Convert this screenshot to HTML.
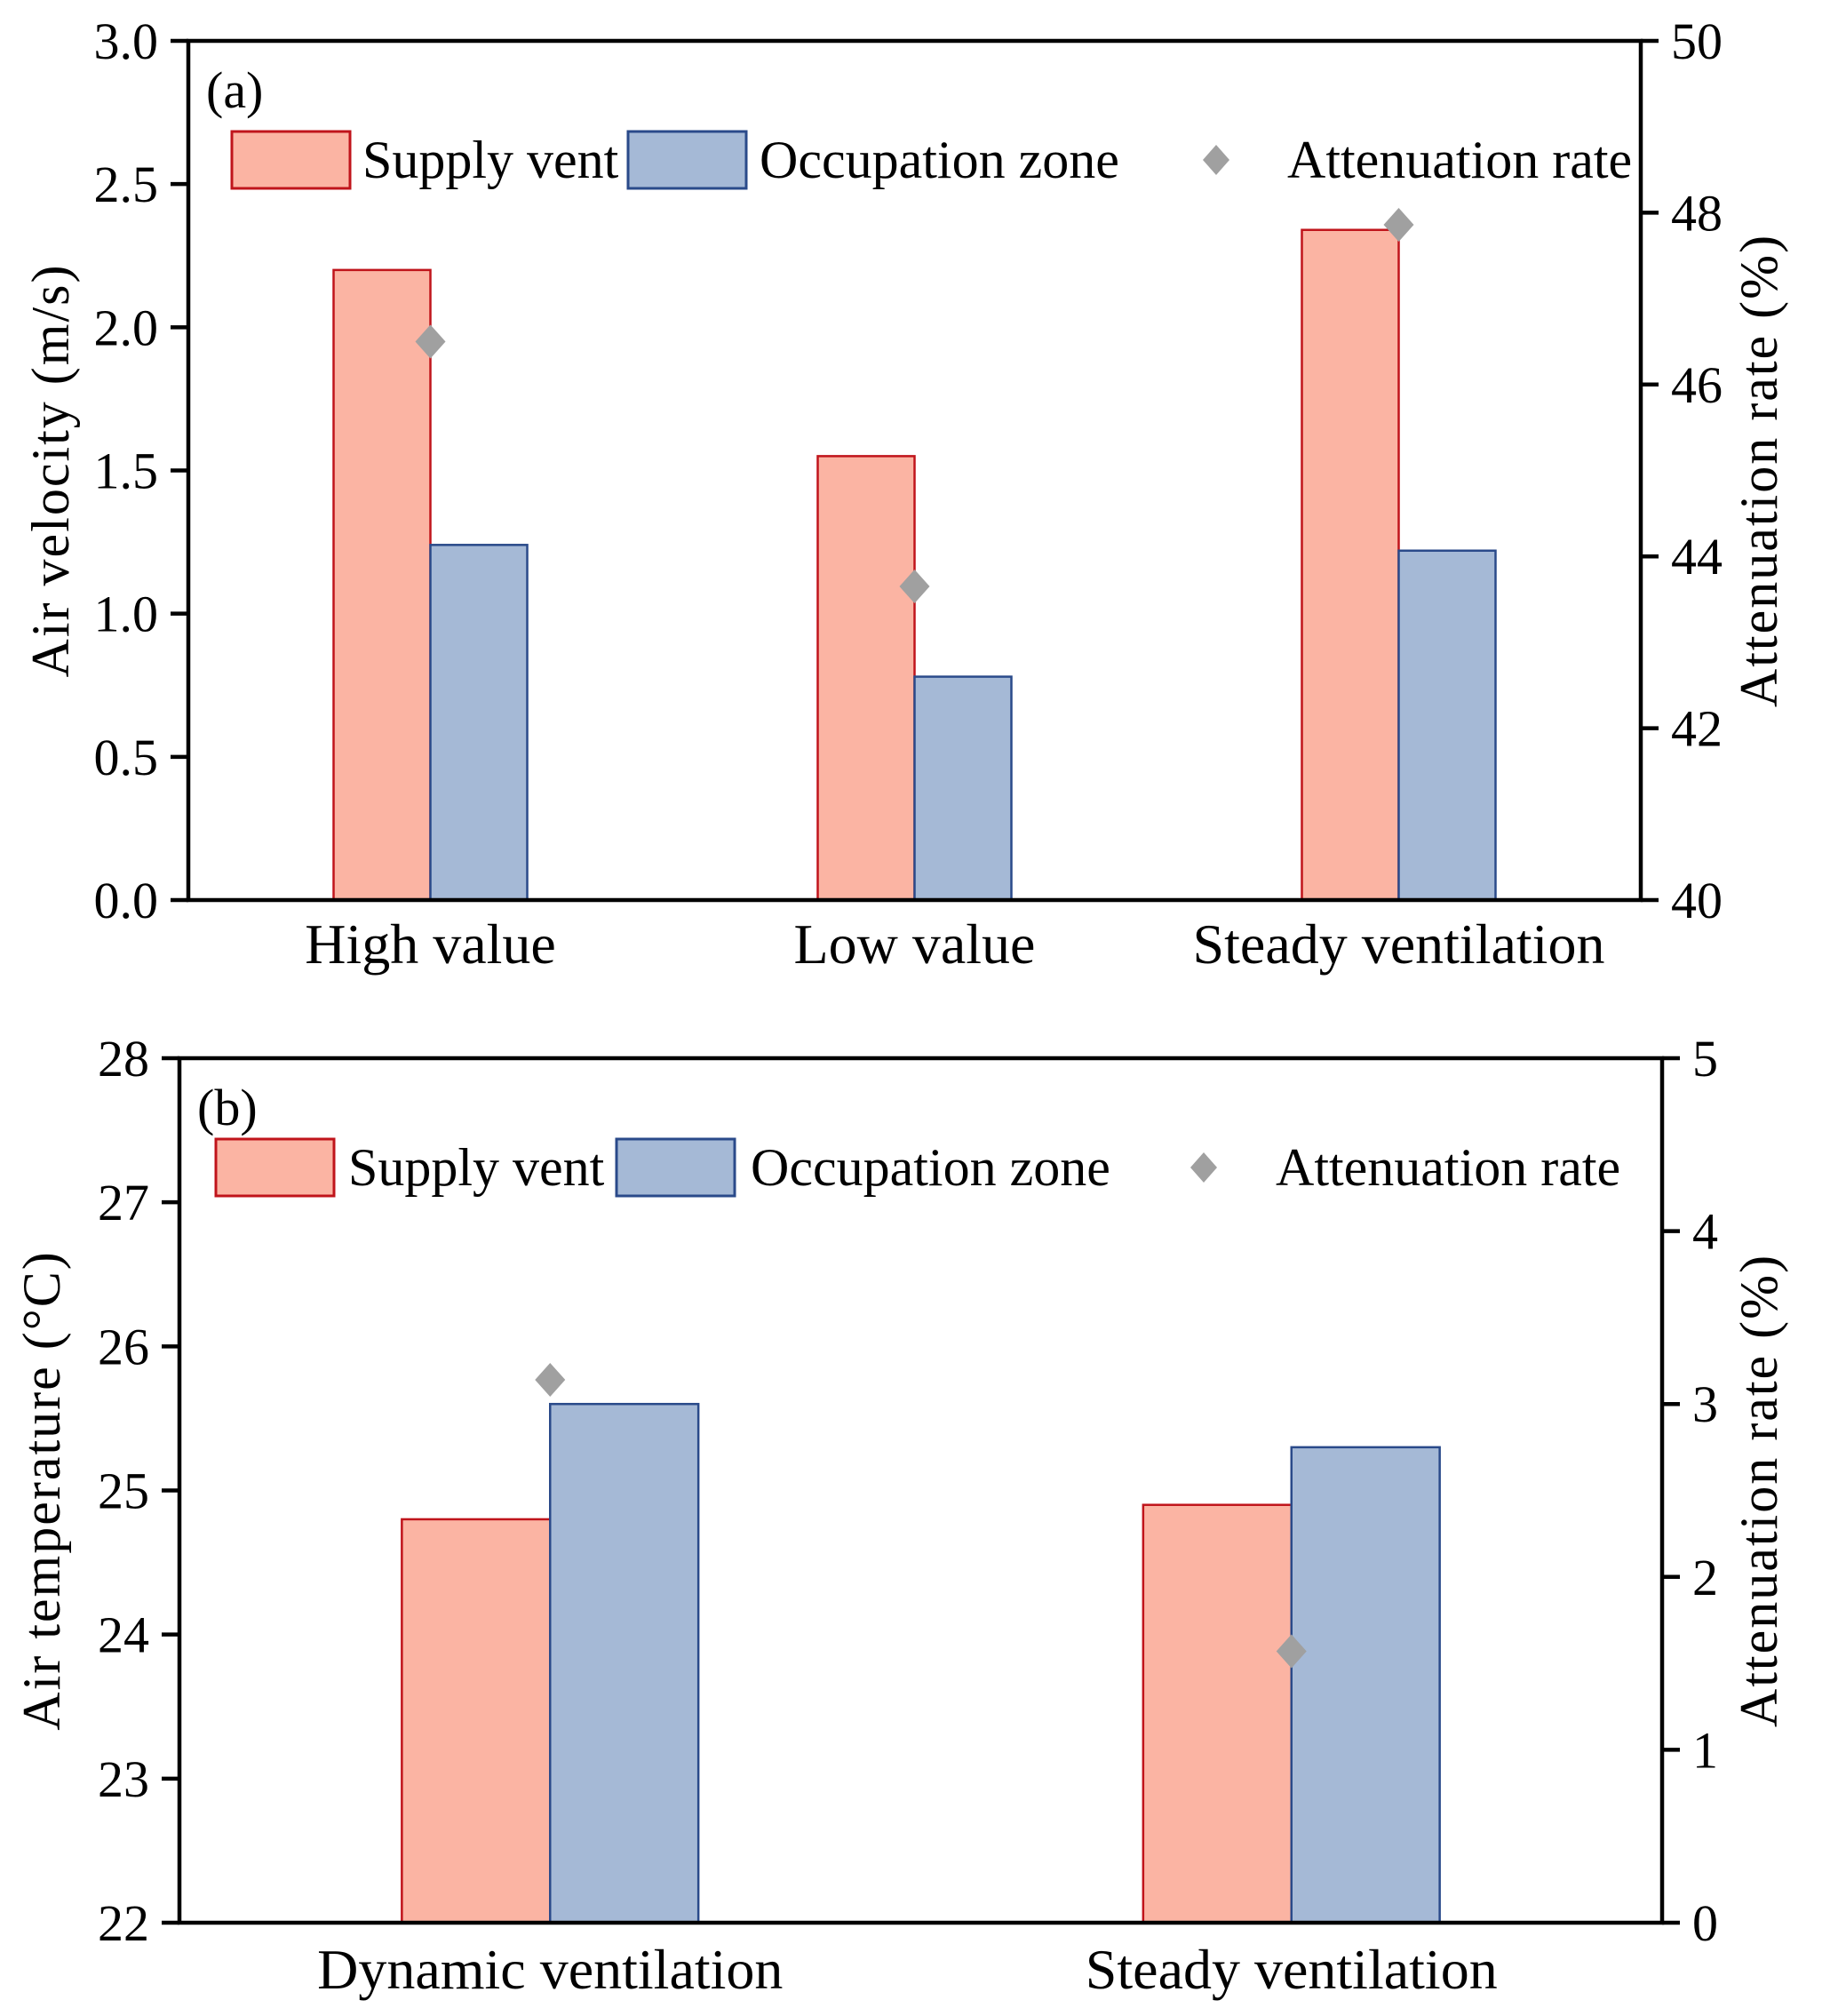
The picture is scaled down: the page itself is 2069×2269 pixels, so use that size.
<!DOCTYPE html>
<html><head><meta charset="utf-8"><style>
html,body{margin:0;padding:0;background:#fff}
svg{display:block;font-family:"Liberation Serif",serif}
</style></head><body>
<svg id="chart" width="2069" height="2269" viewBox="0 0 2069 2269" xmlns="http://www.w3.org/2000/svg"></svg>
<script>
const catsA = ["High value", "Low value", "Steady ventilation"];
const supplyA = [2.2, 1.55, 2.34];
const occA = [1.24, 0.78, 1.22];
const rateA = [46.5, 43.65, 47.86];
const leftTicksA = ["0.0","0.5","1.0","1.5","2.0","2.5","3.0"];
const rightTicksA = ["40","42","44","46","48","50"];

const catsB = ["Dynamic ventilation", "Steady ventilation"];
const supplyB = [24.8, 24.9];
const occB = [25.6, 25.3];
const rateB = [3.14, 1.57];
const leftTicksB = ["22","23","24","25","26","27","28"];
const rightTicksB = ["0","1","2","3","4","5"];

const NS = "http://www.w3.org/2000/svg";
const svg = document.getElementById("chart");
function el(tag, attrs, parent) {
  const e = document.createElementNS(NS, tag);
  for (const k in attrs) e.setAttribute(k, attrs[k]);
  (parent || svg).appendChild(e);
  return e;
}
function txt(s, attrs, parent) { const t = el("text", attrs, parent); t.textContent = s; return t; }

function panel(p) {
  const g = el("g", {});
  
  
  const W = p.R - p.L, H = p.B - p.T;
  const y = v => p.B - (v - p.ymin) / (p.ymax - p.ymin) * H;
  const y2 = v => p.B - (v - p.y2min) / (p.y2max - p.y2min) * H;
  const n = p.cats.length, step = W / n, bw = step * 0.2;
  const cx = i => p.L + step * (i + 0.5);
  p.cats.forEach((c, i) => {
    const r1 = el("rect", {x: cx(i) - bw, y: y(p.sup[i]), width: bw, height: p.B - y(p.sup[i]), fill: "#fbb4a3", stroke: "#c0141b", "stroke-width": 2.5}, g);
    
    
    const r2 = el("rect", {x: cx(i), y: y(p.occ[i]), width: bw, height: p.B - y(p.occ[i]), fill: "#a5b9d6", stroke: "#2a4a8a", "stroke-width": 2.5}, g);
    
    
    const d = el("path", {d: `M${cx(i)},${y2(p.rate[i]) - 19} l17,19 l-17,19 l-17,-19 z`, fill: "#a0a0a0"}, g);
    
    
    const t = txt(c, {x: cx(i), y: p.catY, "font-size": 64, "text-anchor": "middle"}, g);
    
    
  });
  const f = el("rect", {x: p.L, y: p.T, width: W, height: H, fill: "none", stroke: "#000", "stroke-width": 4.5}, g);
  
  
  p.lt.forEach((s, i) => {
    const v = p.ymin + i * (p.ymax - p.ymin) / (p.lt.length - 1);
    el("line", {x1: p.L - 20, x2: p.L, y1: y(v), y2: y(v), stroke: "#000", "stroke-width": 4.5}, g);
    const t = txt(s, {x: p.L - 34, y: y(v) + 20, "font-size": 58, "text-anchor": "end"}, g);
    
    
  });
  p.rt.forEach((s, i) => {
    const v = p.y2min + i * (p.y2max - p.y2min) / (p.rt.length - 1);
    el("line", {x1: p.R, x2: p.R + 20, y1: y2(v), y2: y2(v), stroke: "#000", "stroke-width": 4.5}, g);
    const t = txt(s, {x: p.R + 34, y: y2(v) + 20, "font-size": 58}, g);
    
    
  });
  const my = (p.T + p.B) / 2;
  const lt = txt(p.ltitle, {x: 0, y: 0, "font-size": 60, "text-anchor": "middle", "letter-spacing": 2, transform: `translate(${p.L - 135},${my}) rotate(-90)`}, g);
  
  
  const rtt = txt("Attenuation rate (%)", {x: 0, y: 0, "font-size": 60, "text-anchor": "middle", "letter-spacing": 2, transform: `translate(2000,${my}) rotate(-90)`}, g);
  
  
  const pl = txt(p.label, {x: p.L + 20, y: p.T + 75, "font-size": 58}, g);
  
  
  const lg = el("g", {}, g);
  
  
  const lx = p.leg, ly = p.legY;
  el("rect", {x: lx[0], y: ly - 32, width: 133, height: 64, fill: "#fbb4a3", stroke: "#c0141b", "stroke-width": 3}, lg);
  txt("Supply vent", {x: lx[1], y: ly + 20, "font-size": 60}, lg);
  el("rect", {x: lx[2], y: ly - 32, width: 133, height: 64, fill: "#a5b9d6", stroke: "#2a4a8a", "stroke-width": 3}, lg);
  txt("Occupation zone", {x: lx[3], y: ly + 20, "font-size": 60}, lg);
  el("path", {d: `M${lx[4]},${ly - 17} l15,17 l-15,17 l-15,-17 z`, fill: "#a0a0a0"}, lg);
  txt("Attenuation rate", {x: lx[5], y: ly + 20, "font-size": 60}, lg);
}

panel({name: "panel-a-velocity", L: 212, R: 1847, T: 46, B: 1013, ymin: 0, ymax: 3, y2min: 40, y2max: 50,
  cats: catsA, sup: supplyA, occ: occA, rate: rateA, lt: leftTicksA, rt: rightTicksA,
  ltitle: "Air velocity (m/s)", label: "(a)", catY: 1084, leg: [261, 408, 707, 855, 1369, 1449], legY: 180});
panel({name: "panel-b-temperature", L: 202, R: 1871, T: 1191, B: 2164, ymin: 22, ymax: 28, y2min: 0, y2max: 5,
  cats: catsB, sup: supplyB, occ: occB, rate: rateB, lt: leftTicksB, rt: rightTicksB,
  ltitle: "Air temperature (°C)", label: "(b)", catY: 2238, leg: [243, 392, 694, 845, 1355, 1436], legY: 1314});
</script>
</body></html>
